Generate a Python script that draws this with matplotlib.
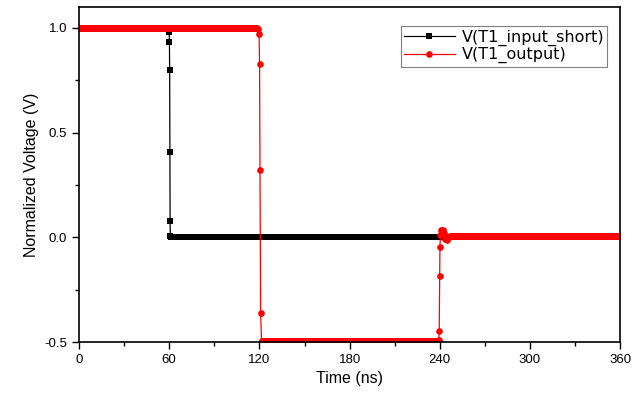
import numpy as np
import matplotlib
matplotlib.use("Agg")
import matplotlib.pyplot as plt

plt.rcParams['font.family'] = ['Liberation Sans', 'DejaVu Sans']

# sampling grid of the simulation (ns)
t_step = 0.5

# V(T1_input_short): high level, fall near 60 ns, low level
in_high = 1.0
in_low = 0.0
in_fall_t = [60.0, 60.15, 60.3, 60.45, 60.6, 60.75, 61.0]
in_fall_v = [0.98, 0.935, 0.80, 0.41, 0.08, 0.005, 0.0]

# V(T1_output): high, fall near 120 ns, -0.5 level, rise near 240 ns, ~0
out_high = 1.0
out_mid = -0.494
out_end = 0.006
out_fall_t = [118.5, 119.3, 119.8, 120.1, 120.4, 120.8, 121.4]
out_fall_v = [1.0, 0.995, 0.97, 0.83, 0.32, -0.36, -0.494]
out_rise_t = [239.3, 239.6, 239.9, 240.1, 240.4, 241.0, 241.8, 242.6, 243.6, 244.6, 246.0]
out_rise_v = [-0.49, -0.445, -0.185, -0.046, 0.01, 0.035, 0.034, 0.02, -0.01, -0.012, 0.0]

# build series on the time grid
t_a = np.arange(0, 60, t_step)
t_b = np.arange(62, 360.5, t_step)
x_in = np.concatenate([t_a, in_fall_t, t_b])
y_in = np.concatenate([np.full(len(t_a), in_high), in_fall_v, np.full(len(t_b), in_low)])

t_c = np.arange(0, 118.5, t_step)
t_d = np.arange(122, 239.3, t_step)
t_e = np.arange(247, 360.5, t_step)
x_out = np.concatenate([t_c, out_fall_t, t_d, out_rise_t, t_e])
y_out = np.concatenate([np.full(len(t_c), out_high), out_fall_v,
                        np.full(len(t_d), out_mid), out_rise_v,
                        np.full(len(t_e), out_end)])

fig = plt.figure(figsize=(6.33, 4.01), dpi=100)
ax = fig.add_axes([0.1248, 0.147, 0.855, 0.8355])

ax.plot(x_in, y_in, color='black', lw=0.9, marker='s', ms=4.2,
        markeredgewidth=0, label='V(T1_input_short)')
ax.plot(x_out, y_out, color='red', lw=0.9, marker='o', ms=4.8,
        markeredgewidth=0, label='V(T1_output)')

ax.set_xlim(0, 360)
ax.set_ylim(-0.5, 1.1)
ax.set_xticks([0, 60, 120, 180, 240, 300, 360])
ax.set_xticks([30, 90, 150, 210, 270, 330], minor=True)
ax.set_yticks([-0.5, 0.0, 0.5, 1.0])
ax.set_yticks([-0.25, 0.25, 0.75], minor=True)
ax.yaxis.set_major_formatter(matplotlib.ticker.FormatStrFormatter('%.1f'))

ax.tick_params(which='both', direction='out', top=False, right=False,
               labelsize=9.5, width=1)
ax.tick_params(which='major', length=5)
ax.tick_params(which='minor', length=3)
for s in ax.spines.values():
    s.set_linewidth(1.2)

ax.set_xlabel('Time (ns)', fontsize=11.5)
ax.set_ylabel('Normalized Voltage (V)', fontsize=11.5)

leg = ax.legend(loc='upper right', bbox_to_anchor=(0.976, 0.943),
                prop={'family': ['DejaVu Sans'], 'size': 11.5},
                fancybox=False, edgecolor='gray', framealpha=1,
                borderpad=0.2, handlelength=3.2, labelspacing=0.1,
                handletextpad=0.4, borderaxespad=0)
leg.get_frame().set_linewidth(0.8)

fig.savefig('out.png', dpi=100)
